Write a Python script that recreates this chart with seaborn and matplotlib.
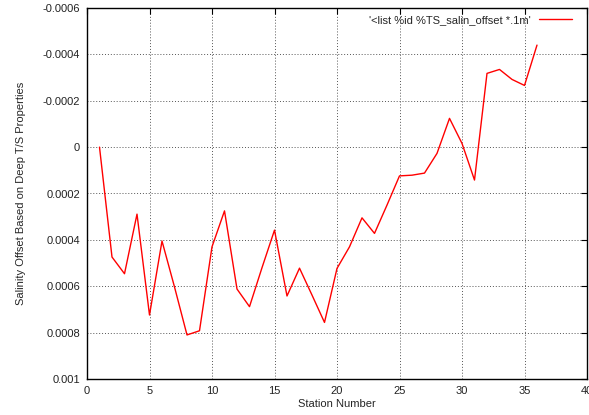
import matplotlib
matplotlib.use("Agg")
import matplotlib.pyplot as plt
import seaborn as sns
import pandas as pd

stations = list(range(1, 37))
salin_offset = [0.0, 0.000474, 0.000546, 0.000289, 0.000724, 0.000405, 0.000603, 0.00081,
                0.000792, 0.00043, 0.000275, 0.000612, 0.000688, 0.00052, 0.000358, 0.000642,
                0.000522, 0.000638, 0.000756, 0.000523, 0.00043, 0.000305, 0.000372, 0.00025,
                0.000124, 0.000121, 0.000112, 0.000027, -0.000124, -0.000016, 0.000142,
                -0.000318, -0.000335, -0.000292, -0.000266, -0.00044]
legend_label = "'<list %id %TS_salin_offset *.1m'"
x_ticks = [0, 5, 10, 15, 20, 25, 30, 35, 40]
y_ticks = [-0.0006, -0.0004, -0.0002, 0, 0.0002, 0.0004, 0.0006, 0.0008, 0.001]
y_tick_labels = ["-0.0006", "-0.0004", "-0.0002", "0", "0.0002", "0.0004", "0.0006", "0.0008", "0.001"]

sns.set_style("white")
plt.rcParams['font.family'] = ['Liberation Sans', 'DejaVu Sans']

df = pd.DataFrame({"station": stations, "offset": salin_offset})

fig = plt.figure(figsize=(5.89, 4.15), dpi=100)
ax = fig.add_axes([87/589, 1 - 379/415, 500/589, 371/415])
sns.lineplot(data=df, x="station", y="offset", ax=ax, color="#ff0000", linewidth=1.0,
             label=legend_label)

ax.set_xlim(0, 40)
ax.set_ylim(0.001, -0.0006)
ax.set_xticks(x_ticks)
ax.set_xticklabels([str(t) for t in x_ticks], fontsize=8)
ax.set_yticks(y_ticks)
ax.set_yticklabels(y_tick_labels, fontsize=8)
ax.tick_params(direction="in", length=4, width=0.8, top=True, right=True, colors="black",
               labelcolor="#222222", pad=5)
ax.grid(True, linestyle=(0, (1, 2)), color="#555555", linewidth=0.7)
for s in ax.spines.values():
    s.set_color("black")
    s.set_linewidth(1.0)
ax.set_xlabel("Station Number", fontsize=8, labelpad=2)
ax.set_ylabel("Salinity Offset Based on Deep T/S Properties", fontsize=8, labelpad=12)
leg = ax.legend(loc="center right", bbox_to_anchor=((572 - 87) / 500, 1 - (20 - 8) / 371),
                frameon=False, markerfirst=False, fontsize=8, borderpad=0, borderaxespad=0,
                handlelength=3.0, handletextpad=0.7)

fig.savefig("out.png", dpi=100)
